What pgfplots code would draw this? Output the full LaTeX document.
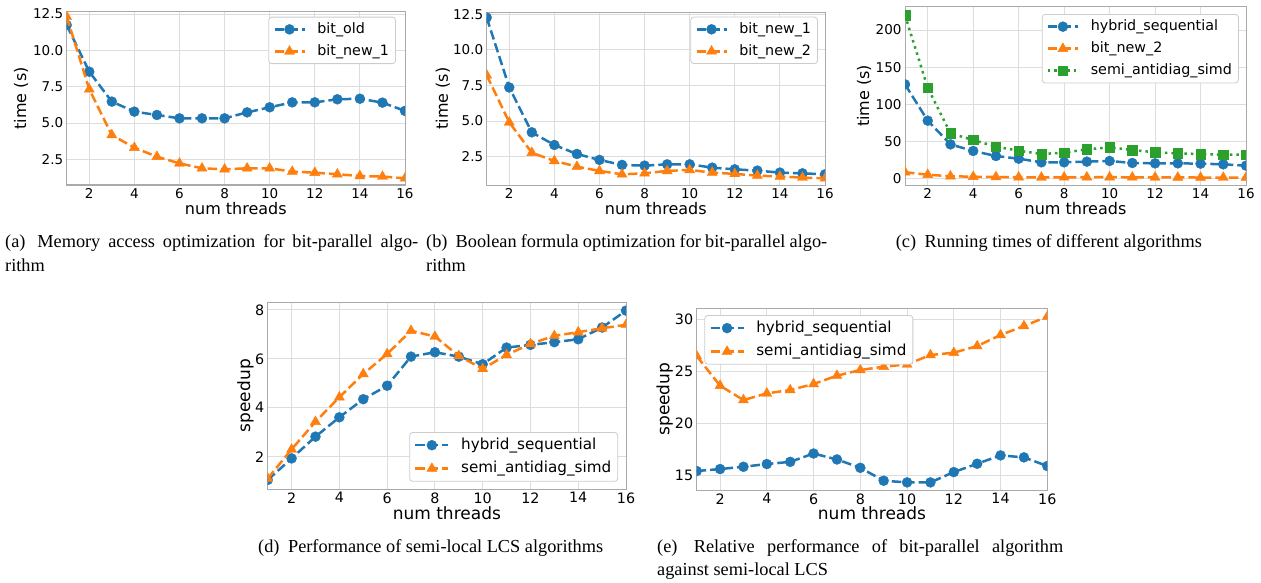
\documentclass[border=0pt]{standalone}
\usepackage{fontspec}
\setsansfont{DejaVu Sans}
\newfontfamily\capfont{Liberation Serif}
\usepackage{pgfplots}
\pgfplotsset{compat=1.18}
\definecolor{c0}{HTML}{1F77B4}
\definecolor{c1}{HTML}{FF7F0E}
\definecolor{c2}{HTML}{2CA02C}
\definecolor{gridc}{HTML}{DDDDDD}
\definecolor{framec}{HTML}{AAAAAA}
\definecolor{legc}{HTML}{CCCCCC}
\newcommand{\capsize}{\capfont\fontsize{18.3}{22}\selectfont}

\pgfplotsset{
  panel/.style={
    scale only axis, enlargelimits=false,
    xmin=1, xmax=16, xtick={2,4,...,16},
    clip marker paths=true,
    grid=major, grid style={draw=gridc, line width=0.9pt},
    axis line style={draw=framec, line width=1pt},
    major tick length=0pt,
    /pgf/number format/assume math mode=true,
    legend cell align=left,
    legend style={draw=legc, line width=0.8pt, rounded corners=3pt, fill=white,
      inner xsep=4.5pt, inner ysep=3.5pt},
  },
  toprow/.style={panel,
    tick label style={font=\fontsize{13.5}{16}\selectfont\sffamily},
    label style={font=\fontsize{16}{19}\selectfont\sffamily},
    legend style={font=\fontsize{14.3}{17}\selectfont\sffamily,
      nodes={inner sep=2pt, text height=10.5pt, text depth=3pt}, row sep=4.5pt,
      /tikz/every odd column/.append style={column sep=9.6pt}},
    legend image code/.code={
      \draw[mark repeat=2,mark phase=2,##1] plot coordinates {(0pt,0pt) (15pt,0pt) (30pt,0pt)};},
  },
  botrow/.style={panel,
    tick label style={font=\fontsize{14.3}{17}\selectfont\sffamily},
    label style={font=\fontsize{17}{20}\selectfont\sffamily},
    legend style={font=\fontsize{15.2}{18}\selectfont\sffamily,
      nodes={inner sep=2pt, text height=11.2pt, text depth=3.2pt}, row sep=5pt,
      /tikz/every odd column/.append style={column sep=9.5pt}},
    legend image code/.code={
      \draw[mark repeat=2,mark phase=2,##1] plot coordinates {(0pt,0pt) (16.5pt,0pt) (33pt,0pt)};},
  },
  dsh/.style={line width=2.5pt, dash pattern=on 9.5pt off 4pt, mark options={solid, line width=0.4pt}},
  dtt/.style={line width=2.5pt, dash pattern=on 2.5pt off 4pt, mark options={solid, line width=0.4pt}},
  circ/.style={mark=*, mark size=5pt},
  tri/.style={mark=triangle*, mark size=5.8pt},
  sq/.style={mark=square*, mark size=4.7pt},
}

\begin{document}
\begin{tikzpicture}
\path[use as bounding box] (0pt,0pt) rectangle (1261pt,-583pt);

% (a)
\begin{axis}[toprow, anchor=south west, at={(66.7pt,-185pt)},
  width=338.3pt, height=173.3pt, ymin=0.73, ymax=12.66,
  ytick={2.5,5,7.5,10,12.5},
  yticklabel style={/pgf/number format/.cd, fixed, fixed zerofill, precision=1},
  xlabel={num threads}, ylabel={time (s)},
  xlabel style={at={(axis description cs:0.5,-0.173)}, anchor=base},
  ylabel style={at={(axis description cs:-0.120,0.5)}, anchor=base},
  legend style={at={(axis description cs:0.973,0.971)}, anchor=north east}]
\addplot[c0, dsh, circ] coordinates {(1,11.74)(2,8.53)(3,6.47)(4,5.78)(5,5.55)(6,5.32)(7,5.32)(8,5.32)(9,5.73)(10,6.08)(11,6.42)(12,6.42)(13,6.63)(14,6.67)(15,6.40)(16,5.83)};
\addlegendentry{bit\_old}
\addplot[c1, dsh, tri] coordinates {(1,12.32)(2,7.32)(3,4.17)(4,3.30)(5,2.68)(6,2.22)(7,1.88)(8,1.81)(9,1.88)(10,1.88)(11,1.65)(12,1.58)(13,1.47)(14,1.35)(15,1.31)(16,1.19)};
\addlegendentry{bit\_new\_1}
\end{axis}

% (b)
\begin{axis}[toprow, anchor=south west, at={(486.7pt,-185pt)},
  width=338.3pt, height=173pt, ymin=0.51, ymax=12.66,
  ytick={2.5,5,7.5,10,12.5},
  yticklabel style={/pgf/number format/.cd, fixed, fixed zerofill, precision=1},
  xlabel={num threads}, ylabel={time (s)},
  xlabel style={at={(axis description cs:0.5,-0.173)}, anchor=base},
  ylabel style={at={(axis description cs:-0.115,0.5)}, anchor=base},
  legend style={at={(axis description cs:0.979,0.973)}, anchor=north east}]
\addplot[c0, dsh, circ] coordinates {(1,12.27)(2,7.36)(3,4.21)(4,3.32)(5,2.69)(6,2.27)(7,1.92)(8,1.87)(9,1.96)(10,1.96)(11,1.73)(12,1.61)(13,1.52)(14,1.38)(15,1.33)(16,1.26)};
\addlegendentry{bit\_new\_1}
\addplot[c1, dsh, tri] coordinates {(1,8.22)(2,4.91)(3,2.78)(4,2.20)(5,1.80)(6,1.50)(7,1.26)(8,1.33)(9,1.50)(10,1.57)(11,1.38)(12,1.29)(13,1.17)(14,1.10)(15,1.03)(16,0.98)};
\addlegendentry{bit\_new\_2}
\end{axis}

% (c)
\begin{axis}[toprow, anchor=south west, at={(905pt,-185pt)},
  width=341pt, height=178.3pt, ymin=-9, ymax=231.5,
  ytick={0,50,100,150,200},
  xlabel={num threads}, ylabel={time (s)},
  xlabel style={at={(axis description cs:0.5,-0.164)}, anchor=base},
  ylabel style={at={(axis description cs:-0.105,0.5)}, anchor=base},
  legend style={at={(axis description cs:0.979,0.959)}, anchor=north east}]
\addplot[c0, dsh, circ] coordinates {(1,126.7)(2,77.8)(3,45.8)(4,36.9)(5,30.1)(6,26.5)(7,21.6)(8,21.6)(9,22.5)(10,23.4)(11,20.7)(12,20.2)(13,20.2)(14,19.8)(15,18.9)(16,17.1)};
\addlegendentry{hybrid\_sequential}
\addplot[c1, dsh, tri] coordinates {(1,8.22)(2,4.91)(3,2.78)(4,2.20)(5,1.80)(6,1.50)(7,1.26)(8,1.33)(9,1.50)(10,1.57)(11,1.38)(12,1.29)(13,1.17)(14,1.10)(15,1.03)(16,0.98)};
\addlegendentry{bit\_new\_2}
\addplot[c2, dtt, sq] coordinates {(1,220)(2,122)(3,60.7)(4,51.7)(5,42.7)(6,37.3)(7,32.8)(8,34.6)(9,39.1)(10,41.8)(11,38.2)(12,35.1)(13,33.7)(14,32.8)(15,31.9)(16,31.9)};
\addlegendentry{semi\_antidiag\_simd}
\end{axis}

% (d)
\begin{axis}[botrow, anchor=south west, at={(267.7pt,-489pt)},
  width=358.3pt, height=186.7pt, ymin=0.68, ymax=8.31,
  ytick={2,4,6,8},
  xlabel={num threads}, ylabel={speedup},
  xlabel style={at={(axis description cs:0.5,-0.166)}, anchor=base},
  ylabel style={at={(axis description cs:-0.049,0.5)}, anchor=base},
  legend style={at={(axis description cs:0.978,0.039)}, anchor=south east}]
\addplot[c0, dsh, circ] coordinates {(1,1.05)(2,1.93)(3,2.82)(4,3.61)(5,4.35)(6,4.90)(7,6.09)(8,6.27)(9,6.09)(10,5.78)(11,6.46)(12,6.57)(13,6.68)(14,6.80)(15,7.28)(16,7.97)};
\addlegendentry{hybrid\_sequential}
\addplot[c1, dsh, tri] coordinates {(1,1.11)(2,2.30)(3,3.43)(4,4.43)(5,5.38)(6,6.20)(7,7.15)(8,6.91)(9,6.12)(10,5.59)(11,6.16)(12,6.61)(13,6.94)(14,7.09)(15,7.25)(16,7.39)};
\addlegendentry{semi\_antidiag\_simd}
\end{axis}

% (e)
\begin{axis}[botrow, anchor=south west, at={(696.7pt,-490pt)},
  width=350.6pt, height=181.7pt, ymin=13.63, ymax=31.06,
  ytick={15,20,25,30},
  xlabel={num threads}, ylabel={speedup},
  xlabel style={at={(axis description cs:0.5,-0.165)}, anchor=base},
  ylabel style={at={(axis description cs:-0.078,0.5)}, anchor=base},
  legend style={at={(axis description cs:0.022,0.963)}, anchor=north west}]
\addplot[c0, dsh, circ] coordinates {(1,15.45)(2,15.64)(3,15.86)(4,16.12)(5,16.33)(6,17.13)(7,16.56)(8,15.76)(9,14.52)(10,14.36)(11,14.36)(12,15.35)(13,16.15)(14,16.95)(15,16.76)(16,15.93)};
\addlegendentry{hybrid\_sequential}
\addplot[c1, dsh, tri] coordinates {(1,26.48)(2,23.64)(3,22.26)(4,22.90)(5,23.22)(6,23.80)(7,24.60)(8,25.14)(9,25.46)(10,25.68)(11,26.58)(12,26.80)(13,27.44)(14,28.50)(15,29.36)(16,30.26)};
\addlegendentry{semi\_antidiag\_simd}
\end{axis}

% captions
\node[anchor=base west, inner sep=0] at (5pt,-247pt) {\capsize\makebox[413pt][s]{(a)\hspace{4pt} Memory access optimization for bit-parallel algo-}};
\node[anchor=base west, inner sep=0] at (5pt,-271pt) {\capsize rithm};
\node[anchor=base west, inner sep=0] at (426pt,-247pt) {\capsize\makebox[401pt][s]{(b)\hspace{4pt} Boolean formula optimization for bit-parallel algo-}};
\node[anchor=base west, inner sep=0] at (426pt,-271pt) {\capsize rithm};
\node[anchor=base west, inner sep=0] at (895.6pt,-247pt) {\capsize (c)\hspace{4pt} Running times of different algorithms};
\node[anchor=base west, inner sep=0] at (258pt,-552pt) {\capsize (d)\hspace{4pt} Performance of semi-local LCS algorithms};
\node[anchor=base west, inner sep=0] at (657pt,-552pt) {\capsize\makebox[406pt][s]{(e)\hspace{4pt} Relative performance of bit-parallel algorithm}};
\node[anchor=base west, inner sep=0] at (657pt,-575pt) {\capsize against semi-local LCS};
\end{tikzpicture}
\end{document}
